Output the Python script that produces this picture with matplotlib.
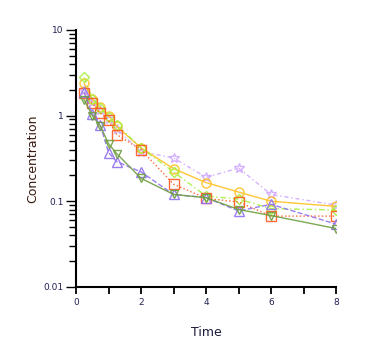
import matplotlib
matplotlib.use("Agg")
import matplotlib.pyplot as plt
from matplotlib.ticker import LogLocator, FixedLocator, NullFormatter, FixedFormatter

time = [0.25, 0.5, 0.75, 1, 1.25, 2, 3, 4, 5, 6, 8]
gold = [2.38, 1.55, 1.25, 1.0, 0.75, 0.42, 0.24, 0.165, 0.128, 0.10, 0.087]
orange = [1.82, 1.40, 1.06, 0.88, 0.60, 0.40, 0.158, 0.108, 0.098, 0.067, 0.067]
lime = [2.79, 1.58, 1.23, 0.96, 0.78, 0.42, 0.22, 0.115, 0.106, 0.082, 0.079]
purple = [1.87, 1.05, 0.77, 0.37, 0.29, 0.22, 0.12, 0.11, 0.077, 0.092, 0.054]
green = [1.53, 1.0, 0.75, 0.47, 0.36, 0.185, 0.12, 0.11, 0.08, 0.068, 0.048]
lavender = [2.0, 1.45, 1.15, 0.9, 0.7, 0.38, 0.32, 0.19, 0.244, 0.12, 0.09]

xticks = [0, 2, 4, 6, 8]
yticks = [0.01, 0.1, 1, 10]
yticklabels = ["0.01", "0.1", "1", "10"]

fig = plt.figure(figsize=(3.69, 3.52), dpi=100)
ax = fig.add_axes([0.206, 0.185, 0.705, 0.73])

series = [
    (lavender, "#D0A8FF", "*", (0, (3, 2, 1, 2)), 7.5),
    (gold, "#FFC020", "o", "-", 6.5),
    (lime, "#A8F040", "D", (0, (4, 2, 1, 2)), 5.5),
    (orange, "#FF5A1E", "s", ":", 6.5),
    (purple, "#9070F0", "^", "--", 6.5),
    (green, "#6E9E40", "v", "-", 5.5),
]
for vals, col, mk, ls, ms in series:
    ax.plot(time, vals, color=col, linestyle=ls, linewidth=1.0,
            marker=mk, markersize=ms, markerfacecolor="none",
            markeredgecolor=col, markeredgewidth=1.0, alpha=0.9)

ax.set_yscale("log")
ax.set_xlim(0, 8)
ax.set_ylim(0.01, 10)
ax.xaxis.set_major_locator(FixedLocator(xticks))
ax.xaxis.set_minor_locator(FixedLocator([1, 3, 5, 7]))
ax.yaxis.set_major_locator(FixedLocator(yticks))
ax.yaxis.set_major_formatter(FixedFormatter(yticklabels))
ax.yaxis.set_minor_locator(LogLocator(base=10, subs=range(2, 10)))
ax.yaxis.set_minor_formatter(NullFormatter())

for s in ["top", "right"]:
    ax.spines[s].set_visible(False)
for s in ["left", "bottom"]:
    ax.spines[s].set_linewidth(1.5)
    ax.spines[s].set_color("black")

tick_col = "#202050"
ax.tick_params(axis="x", which="major", direction="out", length=5, width=1.3,
               labelsize=6.5, labelcolor=tick_col, pad=3)
ax.tick_params(axis="x", which="minor", direction="out", length=5, width=1.3)
ax.tick_params(axis="y", which="major", direction="out", length=7, width=1.0,
               labelsize=6.5, labelcolor=tick_col, pad=2)
ax.tick_params(axis="y", which="minor", direction="out", length=5, width=1.0)

ax.set_xlabel("Time", fontsize=9, color="#1a1a3a", labelpad=14)
ax.set_ylabel("Concentration", fontsize=9, color="#3a1a10", labelpad=3)

fig.savefig("out.png", dpi=100, facecolor="white")
